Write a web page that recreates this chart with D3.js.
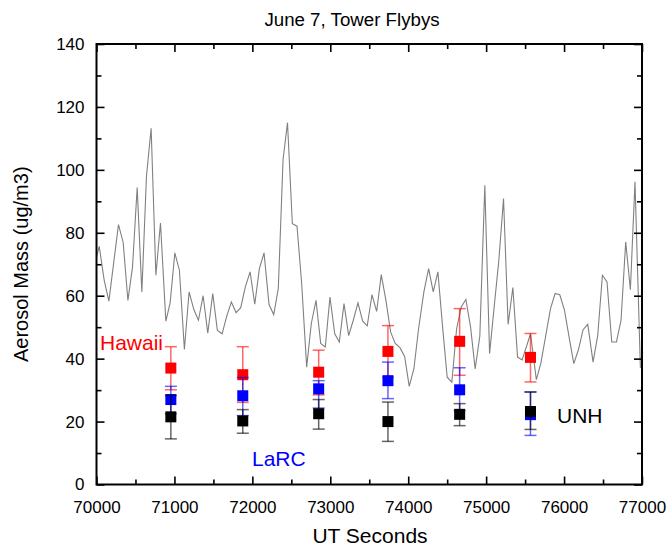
<!DOCTYPE html>
<html>
<head>
<meta charset="utf-8">
<script src="https://cdn.jsdelivr.net/npm/d3@7"></script>
<style>
  body { margin: 0; background: #fff; }
  text { font-family: "Liberation Sans", Arial, sans-serif; }
</style>
</head>
<body>
<svg id="chart" width="669" height="548"></svg>
<script>
// ---- data ----
const lineTimes = [69983,70035,70099,70159,70282,70342,70403,70462,70522,70582,70641,70701,70762,70821,70890,70945,71005,71064,71128,71188,71249,71308,71368,71428,71492,71551,71612,71672,71731,71791,71851,71910,71971,72031,72090,72150,72214,72274,72333,72394,72451,72513,72573,72633,72697,72756,72817,72877,72936,72996,73057,73116,73176,73236,73295,73355,73416,73474,73535,73595,73654,73714,73774,73833,73894,73954,74013,74073,74133,74201,74262,74321,74381,74441,74500,74560,74621,74680,74740,74800,74859,74919,74983,75044,75103,75163,75223,75282,75343,75403,75462,75570,75644,75701,75762,75826,75885,75945,76005,76064,76125,76185,76244,76304,76372,76432,76492,76551,76612,76672,76731,76791,76851,76910,76979,77034];
const lineValues = [70.7,75.7,64.9,58.3,82.6,77.0,58.5,69.1,94.4,61.2,97.9,113.2,66.5,83.1,51.9,57.7,73.6,68.1,42.9,61.2,55.6,52.2,60.0,48.1,60.7,49.0,47.9,53.6,58.0,54.6,56.2,62.8,67.6,57.3,68.6,73.6,57.2,54.0,62.3,103.3,115.0,82.9,82.1,63.8,37.3,51.1,58.5,44.8,43.7,59.6,47.9,45.3,57.5,47.3,52.2,57.7,51.9,50.4,60.3,55.0,66.7,58.5,48.5,44.8,43.5,40.7,31.2,36.8,49.5,61.2,68.6,61.2,67.6,50.1,34.1,32.5,49.5,56.4,58.8,50.1,36.7,47.2,95.1,41.6,56.4,71.3,90.9,50.9,62.6,40.5,39.6,47.9,33.3,38.4,46.9,55.9,60.7,60.3,55.4,46.9,38.4,42.9,49.2,50.9,38.9,47.4,66.5,64.4,45.3,45.3,52.2,77.1,61.9,96.2,37.3,37.3];

const flybyTimes = [70954, 71877, 72851, 73740, 74660, 75569];

const hawaiiValues = [37.0, 34.9, 35.7, 42.3, 45.5, 40.4];
const hawaiiHigh   = [43.8, 43.8, 42.7, 50.5, 55.9, 48.0];
const hawaiiLow    = [30.1, 26.1, 28.5, 34.1, 34.7, 32.6];

const larcValues = [27.0, 28.2, 30.4, 33.0, 30.1, 22.2];
const larcHigh   = [31.2, 34.0, 33.0, 38.9, 37.1, 29.4];
const larcLow    = [22.5, 21.9, 24.3, 27.3, 23.5, 15.6];

const unhValues = [21.5, 20.2, 22.5, 20.0, 22.3, 23.2];
const unhHigh   = [28.3, 23.8, 27.0, 26.2, 25.7, 29.4];
const unhLow    = [14.5, 16.3, 17.6, 13.7, 18.7, 17.5];

const xTicks = [70000, 71000, 72000, 73000, 74000, 75000, 76000, 77000];
const xMinorTicks = [70500, 71500, 72500, 73500, 74500, 75500, 76500];
const yTicks = [0, 20, 40, 60, 80, 100, 120, 140];
const yMinorTicks = [10, 30, 50, 70, 90, 110, 130];

// ---- layout ----
const L = 96.5, R = 642, T = 44, B = 484.5;
const svg = d3.select("#chart");
const x = d3.scaleLinear().domain([70000, 77000]).range([L, R]);
const y = d3.scaleLinear().domain([0, 140]).range([B, T]);

svg.append("defs").append("clipPath").attr("id", "clip")
  .append("rect").attr("x", L).attr("y", T).attr("width", R - L).attr("height", B - T);

// gray line
const lineData = lineTimes.map((t, i) => [t, lineValues[i]]);
svg.append("path")
  .datum(lineData)
  .attr("clip-path", "url(#clip)")
  .attr("fill", "none")
  .attr("stroke", "#808080")
  .attr("stroke-width", 1.1)
  .attr("d", d3.line().x(d => x(d[0])).y(d => y(d[1])));

// series with error bars
function drawSeries(vals, hi, lo, color) {
  const g = svg.append("g");
  const capW = 6;
  flybyTimes.forEach((t, i) => {
    const cx = x(t);
    const eg = g.append("g").attr("stroke", color).attr("stroke-width", 1.5).attr("stroke-opacity", 0.6);
    eg.append("line").attr("x1", cx).attr("x2", cx).attr("y1", y(hi[i])).attr("y2", y(lo[i]));
    eg.append("line").attr("x1", cx - capW).attr("x2", cx + capW).attr("y1", y(hi[i])).attr("y2", y(hi[i]));
    eg.append("line").attr("x1", cx - capW).attr("x2", cx + capW).attr("y1", y(lo[i])).attr("y2", y(lo[i]));
  });
  g.selectAll("rect.m").data(flybyTimes).enter().append("rect")
    .attr("x", d => x(d) - 5.5)
    .attr("y", (d, i) => y(vals[i]) - 5.5)
    .attr("width", 11).attr("height", 11)
    .attr("fill", color);
}
drawSeries(hawaiiValues, hawaiiHigh, hawaiiLow, "#ff0000");
drawSeries(larcValues, larcHigh, larcLow, "#0000ff");
drawSeries(unhValues, unhHigh, unhLow, "#000000");

// axes (ticks inward on all four sides)
const fontSize = "17px";
function styleAxis(g) {
  g.select(".domain").remove();
  g.selectAll(".tick line").attr("stroke", "#000").attr("stroke-width", 1.6);
}
// bottom
const xb = svg.append("g").attr("transform", `translate(0,${B})`)
  .call(d3.axisBottom(x).tickValues(xTicks).tickSize(-8).tickPadding(16).tickFormat(d3.format("d")));
styleAxis(xb);
xb.selectAll("text").attr("font-size", fontSize).attr("fill", "#000").attr("font-family", "Liberation Sans, Arial, sans-serif");
svg.append("g").attr("transform", `translate(0,${B})`)
  .call(d3.axisBottom(x).tickValues(xMinorTicks).tickSize(-5).tickFormat(""))
  .call(styleAxis);
// top
svg.append("g").attr("transform", `translate(0,${T})`)
  .call(d3.axisTop(x).tickValues(xTicks).tickSize(-8).tickFormat(""))
  .call(styleAxis);
svg.append("g").attr("transform", `translate(0,${T})`)
  .call(d3.axisTop(x).tickValues(xMinorTicks).tickSize(-5).tickFormat(""))
  .call(styleAxis);
// left
const yl = svg.append("g").attr("transform", `translate(${L},0)`)
  .call(d3.axisLeft(y).tickValues(yTicks).tickSize(-8).tickPadding(12));
styleAxis(yl);
yl.selectAll("text").attr("font-size", fontSize).attr("fill", "#000").attr("font-family", "Liberation Sans, Arial, sans-serif");
svg.append("g").attr("transform", `translate(${L},0)`)
  .call(d3.axisLeft(y).tickValues(yMinorTicks).tickSize(-5).tickFormat(""))
  .call(styleAxis);
// right
svg.append("g").attr("transform", `translate(${R},0)`)
  .call(d3.axisRight(y).tickValues(yTicks).tickSize(-8).tickFormat(""))
  .call(styleAxis);
svg.append("g").attr("transform", `translate(${R},0)`)
  .call(d3.axisRight(y).tickValues(yMinorTicks).tickSize(-5).tickFormat(""))
  .call(styleAxis);

// frame
svg.append("rect").attr("x", L).attr("y", T).attr("width", R - L).attr("height", B - T)
  .attr("fill", "none").attr("stroke", "#000").attr("stroke-width", 2);

// titles
svg.append("text").attr("x", 352).attr("y", 26).attr("text-anchor", "middle")
  .attr("font-size", "18.7px").text("June 7, Tower Flybys");
svg.append("text").attr("x", 370).attr("y", 543).attr("text-anchor", "middle")
  .attr("font-size", "21px").text("UT Seconds");
svg.append("text").attr("transform", `translate(28,${(T + B) / 2}) rotate(-90)`)
  .attr("text-anchor", "middle").attr("font-size", "20px").text("Aerosol Mass (ug/m3)");

// series labels
svg.append("text").attr("x", 100).attr("y", 350).attr("font-size", "21px").attr("fill", "#ff0000").text("Hawaii");
svg.append("text").attr("x", 252).attr("y", 466).attr("font-size", "21px").attr("fill", "#0000ff").text("LaRC");
svg.append("text").attr("x", 557).attr("y", 423).attr("font-size", "21px").attr("fill", "#000000").text("UNH");
</script>
</body>
</html>
